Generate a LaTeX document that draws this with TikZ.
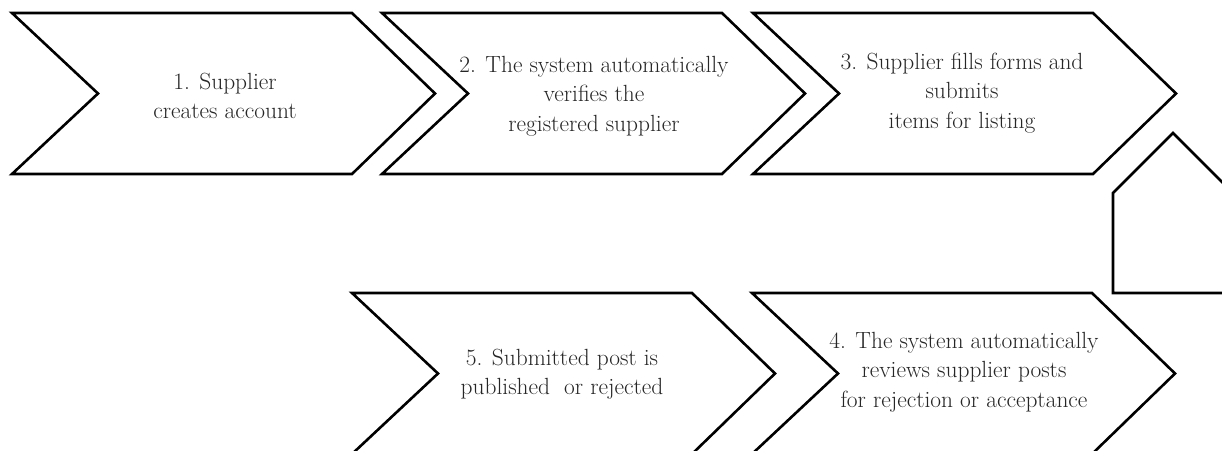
\documentclass[tikz,border=0pt]{standalone}
\usepackage{fontspec}
\tikzset{
  chevline/.style={draw=black, line width=2.6pt, line join=miter, fill=white},
  chevron/.pic={\draw[chevline] (0,0) -- (340,0) -- (423,80.5) -- (340,161) -- (0,161) -- (86,80.5) -- cycle;},
  uparrow/.pic={\draw[chevline] (0,0) -- (60,60) -- (60,160) -- (-60,160) -- (-60,60) -- cycle;},
  steptext/.style={align=center, text=black!85, font=\fontsize{23.4}{29.5}\selectfont, inner sep=0pt}
}
\begin{document}
\begin{tikzpicture}[x=1pt,y=-1pt]
\useasboundingbox (0,0) rectangle (1222,450);
\clip (0,0) rectangle (1222,450);
\fill[white] (0,0) rectangle (1222,450);
% top row
\pic at (12,13) {chevron};
\pic at (382,13) {chevron};
\pic at (753,13) {chevron};
% vertical connector
\pic at (1173,133) {uparrow};
% bottom row
\pic at (352,293) {chevron};
\pic at (752,293) {chevron};
% texts
\node[steptext] (s1) at (225,96) {1. Supplier\\creates account};
\node[steptext] (s2) at (594,96) {2. The system automatically\\verifies the\\registered supplier};
\node[steptext] (s3) at (962,93) {3. Supplier fills forms and\\submits\\items for listing};
\node[steptext] (s5) at (562,374) {5. Submitted post is\\published\ \ or rejected};
\node[steptext] (s4) at (964,372) {4. The system automatically\\reviews supplier posts\\for rejection or acceptance};
\end{tikzpicture}
\end{document}
